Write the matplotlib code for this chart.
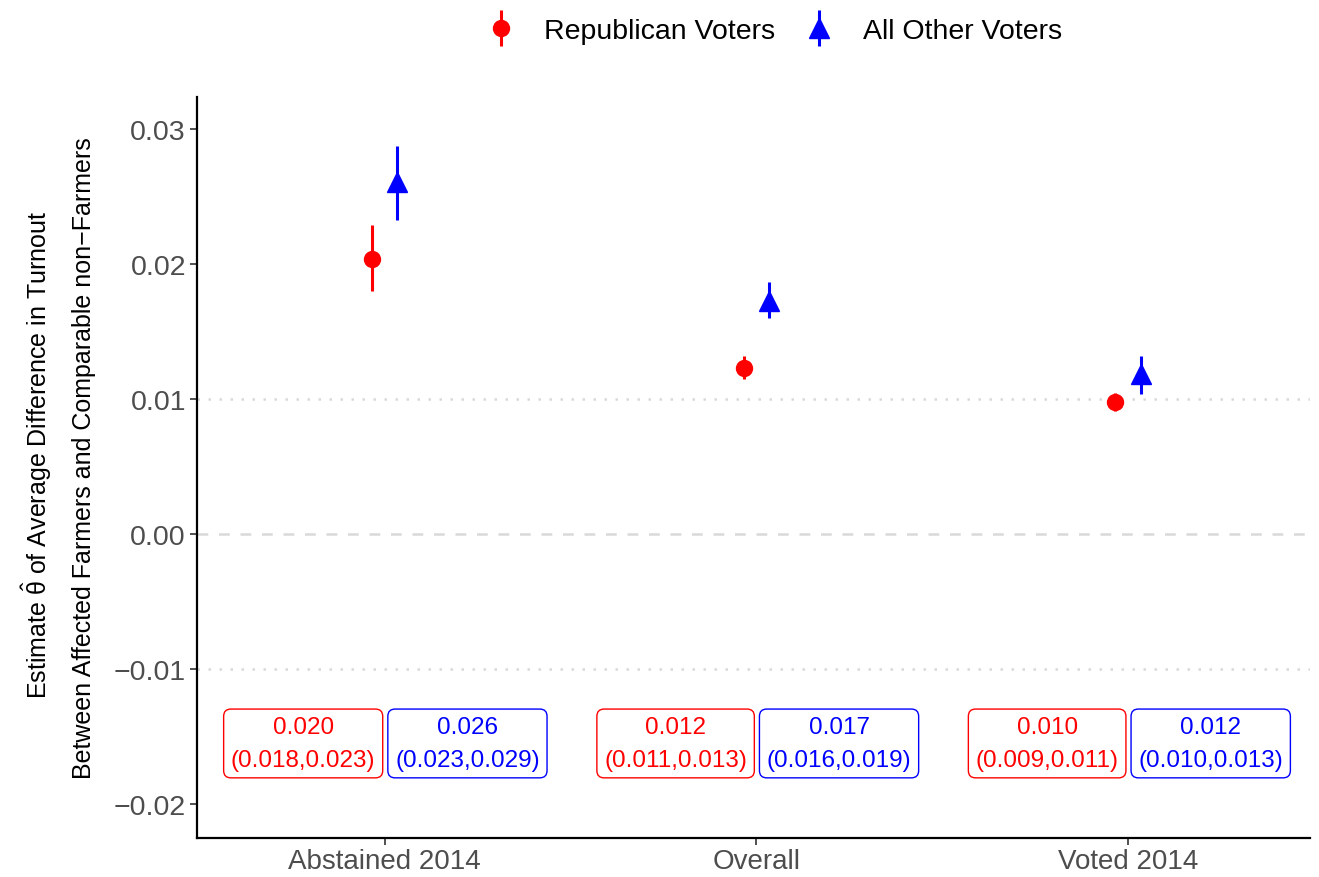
import matplotlib
matplotlib.use("Agg")
import matplotlib.pyplot as plt
from matplotlib.legend_handler import HandlerErrorbar
import numpy as np

plt.rcParams['font.family'] = ['Liberation Sans', 'DejaVu Sans']
plt.rcParams['mathtext.fontset'] = 'custom'
plt.rcParams['mathtext.rm'] = 'Liberation Sans'
plt.rcParams['mathtext.it'] = 'Liberation Sans'
plt.rcParams['mathtext.bf'] = 'Liberation Sans:bold'

categories = ["Abstained 2014", "Overall", "Voted 2014"]
rep_est = [0.0204, 0.0123, 0.0098]
rep_lo = [0.0180, 0.0115, 0.0091]
rep_hi = [0.0229, 0.0132, 0.0105]
oth_est = [0.0261, 0.0173, 0.0119]
oth_lo = [0.0233, 0.0160, 0.0104]
oth_hi = [0.0288, 0.0187, 0.0132]
rep_labels = ["0.020\n(0.018,0.023)", "0.012\n(0.011,0.013)", "0.010\n(0.009,0.011)"]
oth_labels = ["0.026\n(0.023,0.029)", "0.017\n(0.016,0.019)", "0.012\n(0.010,0.013)"]
label_y = -0.0155

fig = plt.figure(figsize=(13.19, 8.78), dpi=100)
ax = fig.add_axes([0.1494, 0.0445, 0.8438, 0.8439])

x = np.arange(1, len(categories) + 1)
dodge = 0.034

ax.axhline(0.01, color='#D9D9D9', lw=1.8, ls=(0, (1, 3.4)), zorder=1)
ax.axhline(-0.01, color='#D9D9D9', lw=1.8, ls=(0, (1, 3.4)), zorder=1)
ax.axhline(0.0, color='#D9D9D9', lw=1.8, ls=(0, (4.3, 4.3)), zorder=1)

rep_err = [np.array(rep_est) - np.array(rep_lo), np.array(rep_hi) - np.array(rep_est)]
oth_err = [np.array(oth_est) - np.array(oth_lo), np.array(oth_hi) - np.array(oth_est)]

h1 = ax.errorbar(x - dodge, rep_est, yerr=rep_err, fmt='o', color='red', ms=11.5,
                 elinewidth=2.2, capsize=0, label='Republican Voters', zorder=3)
h2 = ax.errorbar(x + dodge, oth_est, yerr=oth_err, fmt='^', color='blue', ms=14,
                 elinewidth=2.2, capsize=0, label='All Other Voters', zorder=3)

for i in range(len(categories)):
    ax.text(x[i] - 0.025, label_y, rep_labels[i], ha='right', va='center', color='red',
            fontsize=17.5, linespacing=1.6, multialignment='center',
            bbox=dict(boxstyle='round,pad=0.3,rounding_size=0.3', fc='white', ec='red', lw=1))
    ax.text(x[i] + 0.028, label_y, oth_labels[i], ha='left', va='center', color='blue',
            fontsize=17.5, linespacing=1.6, multialignment='center',
            bbox=dict(boxstyle='round,pad=0.3,rounding_size=0.3', fc='white', ec='blue', lw=1))

ax.set_xlim(0.495, 3.49)
ax.set_ylim(-0.0225, 0.0324)
ax.set_xticks(x)
ax.set_xticklabels(categories)
ax.set_yticks([-0.02, -0.01, 0.0, 0.01, 0.02, 0.03])
ax.set_yticklabels(["\u22120.02", "\u22120.01", "0.00", "0.01", "0.02", "0.03"])
ax.tick_params(axis='both', labelsize=20.5, labelcolor='#4D4D4D', length=5, width=1.2,
               color='#333333', pad=3)
ax.tick_params(axis='x', labelsize=20, pad=2)
for s in ['top', 'right']:
    ax.spines[s].set_visible(False)
for s in ['left', 'bottom']:
    ax.spines[s].set_linewidth(1.6)
    ax.spines[s].set_color('black')

fig.text(37 / 1319, 1 - 455 / 878, r"Estimate $\hat{\theta}$ of Average Difference in Turnout",
         rotation=90, ha='center', va='center', fontsize=18)
fig.text(84 / 1319, 1 - 458 / 878, "Between Affected Farmers and Comparable non\u2212Farmers",
         rotation=90, ha='center', va='center', fontsize=18)

fig.legend(handles=[h1, h2], loc='center', bbox_to_anchor=(770 / 1319, 1 - 32 / 878), ncol=2,
           frameon=False, fontsize=20.5, handletextpad=0.72, columnspacing=0.75, handlelength=1.6,
           handler_map={type(h1): HandlerErrorbar(yerr_size=0.63)})

fig.savefig("out.png", dpi=100)
